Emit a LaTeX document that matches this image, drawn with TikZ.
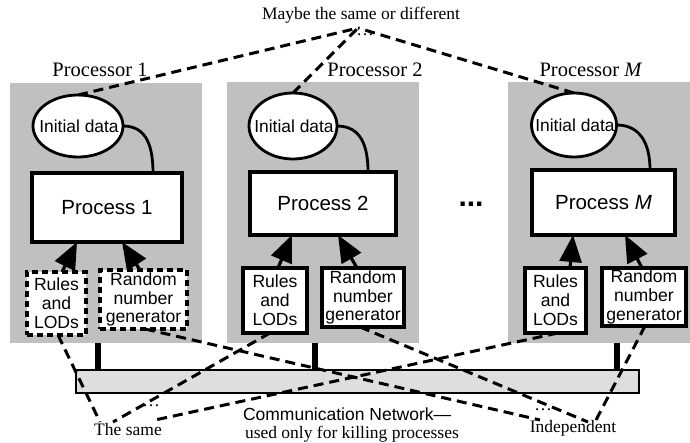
\documentclass[tikz,border=0pt]{standalone}
\usepackage{fontspec}
\setmainfont{Liberation Serif}
\setsansfont{Liberation Sans}
\usetikzlibrary{arrows.meta,shapes.geometric,calc}
\definecolor{procgray}{RGB}{192,192,192}
\definecolor{bargray}{RGB}{222,222,222}
\begin{document}
\begin{tikzpicture}[x=1pt,y=-1pt,
  every node/.style={inner sep=0pt,outer sep=0pt},
  gbox/.style={fill=procgray,draw=none,rectangle},
  procbox/.style={draw,fill=white,line width=3.2pt,rectangle,font=\sffamily\fontsize{20.5}{24}\selectfont},
  initdata/.style={draw,fill=white,ellipse,line width=2.8pt,
     label={[font=\sffamily\fontsize{17.4}{19}\selectfont,xshift=1pt]center:Initial data}},
  smallbox/.style={draw,fill=white,line width=3.2pt,rectangle,align=center,
     font=\sffamily\fontsize{17.6}{18.8}\selectfont},
  dashbox/.style={smallbox,dash pattern=on 6pt off 4pt},
  arr/.style={line width=3.2pt,-{Triangle[length=27pt,width=22pt]}},
  link/.style={line width=2.8pt},
  vconn/.style={line width=5.5pt},
  dline/.style={line width=3pt,dash pattern=on 10pt off 6pt},
  serif/.style={font=\rmfamily\fontsize{17.5}{20}\selectfont},
  plabel/.style={font=\rmfamily\fontsize{20.5}{24}\selectfont}
]
\useasboundingbox (0,0) rectangle (690,443);
\fill[white] (0,0) rectangle (690,443);

% processors (gray areas)
\node[gbox,minimum width=192pt,minimum height=260pt] (P1) at (106,213) {};
\node[gbox,minimum width=192pt,minimum height=261pt] (P2) at (323,212.5) {};
\node[gbox,minimum width=182pt,minimum height=261pt] (PM) at (599,212.5) {};

% communication bar
\node[draw,fill=bargray,line width=2.8pt,minimum width=563pt,minimum height=23pt] (bar) at (357.5,381.5) {};
\draw[vconn] ([xshift=-8pt]P1.south) -- ([xshift=-8pt]P1.south |- bar.north);
\draw[vconn] ([xshift=-8pt]P2.south) -- ([xshift=-8pt]P2.south |- bar.north);
\draw[vconn] ([xshift=18pt]PM.south) -- ([xshift=18pt]PM.south |- bar.north);

% processor 1
\node[initdata,minimum width=90pt,minimum height=62pt] (el1) at (78,126) {};
\node[procbox,minimum width=150pt,minimum height=69pt] (p1) at (107,207.5) {Process 1};
\node[dashbox,minimum width=59pt,minimum height=63pt] (r1) at (56.5,303.5) {Rules\\and\\LODs};
\node[dashbox,minimum width=87pt,minimum height=59pt] (g1) at (143.5,299.5) {Random\\number\\generator};
\draw[link] (el1.east) .. controls +(24,0) and +(0,-26) .. ([xshift=46pt]p1.north);
\draw[arr] ([xshift=5.5pt]r1.north) -- ([xshift=-30pt]p1.south);
\draw[arr] ([xshift=-3.5pt]g1.north) -- ([xshift=15pt]p1.south);

% processor 2
\node[initdata,minimum width=88pt,minimum height=66pt] (el2) at (293,126) {};
\node[procbox,minimum width=146pt,minimum height=63pt] (p2) at (323,203.5) {Process 2};
\node[smallbox,minimum width=64pt,minimum height=65pt] (r2) at (275,300.5) {Rules\\and\\LODs};
\node[smallbox,minimum width=82pt,minimum height=59pt] (g2) at (363,297.5) {Random\\number\\generator};
\draw[link] (el2.east) .. controls +(24,0) and +(0,-26) .. ([xshift=45pt]p2.north);
\draw[arr] ([xshift=3pt]r2.north) -- ([xshift=-31pt]p2.south);
\draw[arr] ([xshift=-6pt]g2.north) -- ([xshift=15pt]p2.south);

% processor M
\node[initdata,minimum width=85pt,minimum height=64pt] (elM) at (574,125) {};
\node[procbox,minimum width=143pt,minimum height=65pt] (pM) at (603.5,202.5) {Process \textit{M}};
\node[smallbox,minimum width=61pt,minimum height=65pt] (rM) at (555.5,300.5) {Rules\\and\\LODs};
\node[smallbox,minimum width=84pt,minimum height=58pt] (gM) at (644,297) {Random\\number\\generator};
\draw[link] (elM.east) .. controls +(24,0) and +(0,-26) .. ([xshift=46.5pt]pM.north);
\draw[arr] ([xshift=14.5pt]rM.north) -- ([xshift=-30.5pt]pM.south);
\draw[arr] ([xshift=-2pt]gM.north) -- ([xshift=21.5pt]pM.south);

% ellipsis between processors
\node[font=\sffamily\bfseries\fontsize{30}{30}\selectfont] (dots) at (471,204) {...};

% "maybe the same or different"
\coordinate (conv) at (358,28);
\draw[dline] (el1.north) -- (conv);
\draw[dline] (el2.north) -- (conv);
\draw[dline] (elM.north) -- (conv);

% "the same" and "independent"
\coordinate (sameA) at (100,422);
\coordinate (sameB) at (113,422);
\coordinate (sameC) at (155,420);
\coordinate (indA) at (540,420);
\coordinate (indB) at (588,422);
\coordinate (indC) at (595,422);
\draw[dline] ([xshift=1.5pt]r1.south) -- (sameA);
\draw[dline] ([xshift=-5pt]r2.south) -- (sameB);
\draw[dline] ([xshift=2.5pt]rM.south) -- (sameC);
\draw[dline] ([xshift=1.5pt]g1.south) -- (indA);
\draw[dline] ([xshift=-3pt]g2.south) -- (indB);
\draw[dline] ([xshift=1pt]gM.south) -- (indC);

% labels
\node[serif] (maybe) at (361,15) {Maybe the same or different};
\node[serif] (mdots) at (365,35) {…};
\node[plabel] (lab1) at (100,70) {Processor 1};
\node[plabel] (lab2) at (375,70) {Processor 2};
\node[plabel] (labM) at (591,70) {Processor \textit{M}};
\node[serif] (same) at (128,430) {The same};
\node[serif] (sdots) at (151,406) {…};
\node[serif] (indep) at (573,428) {Independent};
\node[serif] (idots) at (543,410) {…};
\node[font=\sffamily\fontsize{17.5}{20}\selectfont,anchor=west] (comm1) at (243,414) {Communication Network—};
\node[serif,anchor=west] (comm2) at (245,434.5) {used only for killing processes};
\end{tikzpicture}
\end{document}
